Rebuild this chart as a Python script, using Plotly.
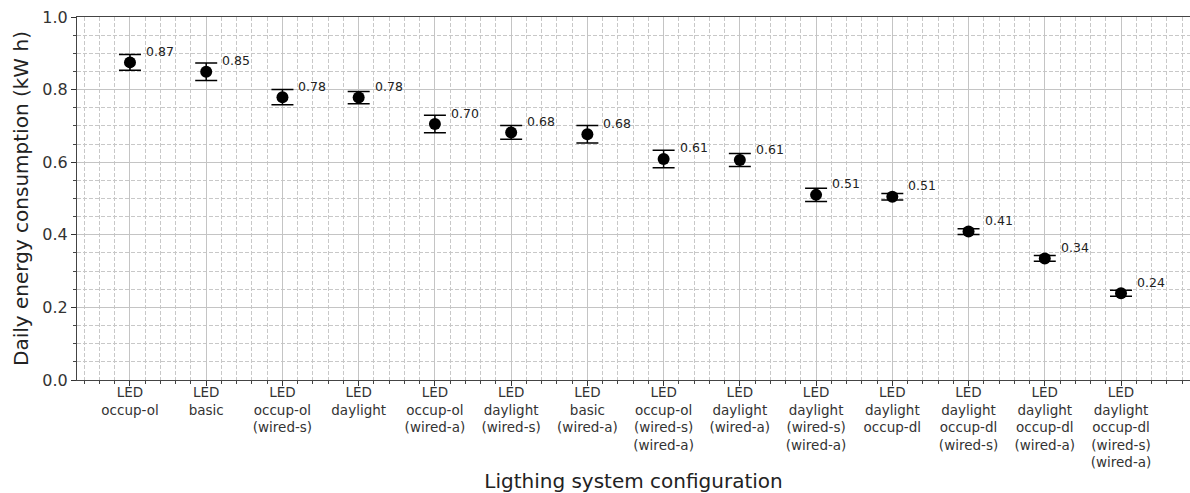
import plotly.graph_objects as go

categories = [
    "LED<br>occup-ol",
    "LED<br>basic",
    "LED<br>occup-ol<br>(wired-s)",
    "LED<br>daylight",
    "LED<br>occup-ol<br>(wired-a)",
    "LED<br>daylight<br>(wired-s)",
    "LED<br>basic<br>(wired-a)",
    "LED<br>occup-ol<br>(wired-s)<br>(wired-a)",
    "LED<br>daylight<br>(wired-a)",
    "LED<br>daylight<br>(wired-s)<br>(wired-a)",
    "LED<br>daylight<br>occup-dl",
    "LED<br>daylight<br>occup-dl<br>(wired-s)",
    "LED<br>daylight<br>occup-dl<br>(wired-a)",
    "LED<br>daylight<br>occup-dl<br>(wired-s)<br>(wired-a)",
]
mean_kwh = [0.875, 0.849, 0.779, 0.778, 0.705, 0.682, 0.677, 0.609, 0.606,
            0.510, 0.505, 0.409, 0.335, 0.239]
err_kwh = [0.022, 0.024, 0.021, 0.017, 0.024, 0.019, 0.024, 0.024, 0.018,
           0.018, 0.009, 0.008, 0.008, 0.008]
value_labels = ["0.87", "0.85", "0.78", "0.78", "0.70", "0.68", "0.68", "0.61",
                "0.61", "0.51", "0.51", "0.41", "0.34", "0.24"]

xpos = list(range(len(categories)))
FONT = "DejaVu Sans"

fig = go.Figure()
fig.add_trace(go.Scatter(
    x=xpos, y=mean_kwh, mode="markers",
    marker=dict(color="black", size=12),
    error_y=dict(type="data", array=err_kwh, visible=True,
                 color="black", thickness=1.5, width=11),
    showlegend=False,
))

for xi, yi, lab in zip(xpos, mean_kwh, value_labels):
    fig.add_annotation(x=xi, y=yi, text=lab, showarrow=False,
                       xanchor="left", yanchor="middle", xshift=14, yshift=11,
                       font=dict(family=FONT, size=12.5, color="#222222"))

fig.update_layout(
    width=1190, height=493,
    margin=dict(l=77, r=0, t=17, b=113),
    paper_bgcolor="white", plot_bgcolor="white",
    font=dict(family=FONT, color="#222222"),
)
fig.update_xaxes(
    automargin=False,
    range=[-0.695, 13.905],
    tickmode="array", tickvals=xpos, ticktext=categories,
    tickfont=dict(family=FONT, size=13.5, color="#333333"),
    ticklabelstandoff=-5,
    ticks="outside", ticklen=5, tickcolor="#333333",
    showline=True, linecolor="#444444", linewidth=1, mirror=True,
    showgrid=True, gridcolor="#c4c4c4", gridwidth=1,
    zeroline=False,
    minor=dict(tick0=0, dtick=0.2, ticks="outside", ticklen=3, tickcolor="#444444",
               showgrid=True, gridcolor="#c8c8c8", griddash="4px,2px", gridwidth=1),
    title=dict(text="Ligthing system configuration",
               font=dict(family=FONT, size=20, color="#222222"), standoff=12),
)
fig.update_yaxes(
    automargin=False,
    range=[0, 1.0], dtick=0.2, tick0=0, tickformat=".1f",
    tickfont=dict(family=FONT, size=16, color="#333333"),
    ticks="outside", ticklen=5, tickcolor="#333333",
    showline=True, linecolor="#444444", linewidth=1,
    showgrid=True, gridcolor="#c4c4c4", gridwidth=1,
    zeroline=False,
    minor=dict(dtick=0.05, ticks="outside", ticklen=3, tickcolor="#444444",
               showgrid=True, gridcolor="#c8c8c8", griddash="4px,2px", gridwidth=1),
    title=dict(text="Daily energy consumption (kW h)",
               font=dict(family=FONT, size=20, color="#222222"), standoff=8),
)

fig.write_html("out.html")
